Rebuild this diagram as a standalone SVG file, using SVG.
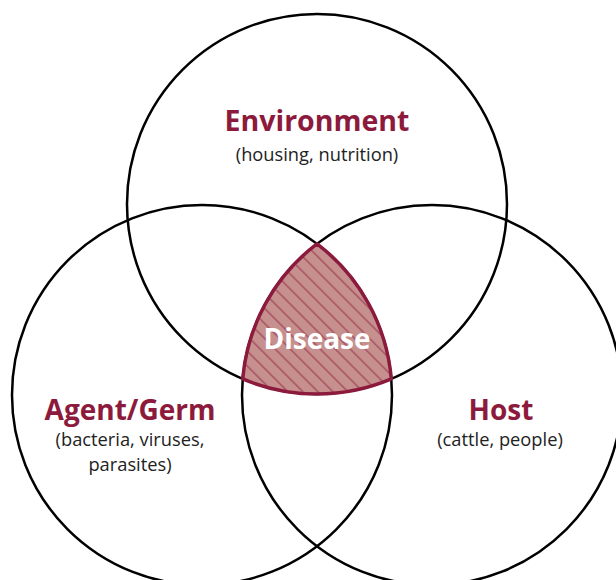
<svg xmlns="http://www.w3.org/2000/svg" width="616" height="580" viewBox="0 0 616 580">
<style>
.c{fill:none;stroke:#000;stroke-width:2.5}
.t{font-family:"Open Sans","Noto Sans",sans-serif;font-weight:700;fill:#8c1a3c;text-anchor:middle}
.s{font-family:"Open Sans","Noto Sans",sans-serif;font-size:18.3px;fill:#222;text-anchor:middle}
</style>
<defs>
<pattern id="hatch" patternUnits="userSpaceOnUse" width="10.6" height="10.6" patternTransform="rotate(-45)">
<rect width="10.6" height="10.6" fill="#c6908f"/>
<line x1="0" y1="0" x2="0" y2="10.6" stroke="#a8505f" stroke-width="3"/>
</pattern>
</defs>
<g id="connectors"/>
<g id="environment">
<circle class="c" cx="317" cy="204" r="190"/>
<text class="t" x="317" y="131" font-size="28.5">Environment</text>
<text class="s" x="317" y="161">(housing, nutrition)</text>
</g>
<g id="agent">
<circle class="c" cx="202" cy="395" r="190"/>
<text class="t" x="130" y="420" font-size="28">Agent/Germ</text>
<text class="s" x="130" y="446">(bacteria, viruses,</text>
<text class="s" x="130" y="471">parasites)</text>
</g>
<g id="host">
<circle class="c" cx="432" cy="395" r="190"/>
<text class="t" x="501" y="420" font-size="28">Host</text>
<text class="s" x="500" y="446">(cattle, people)</text>
</g>
<g id="disease">
<path d="M317,243.8 A190,190 0 0 0 242.7,378.9 A190,190 0 0 0 391.3,378.9 A190,190 0 0 0 317,243.8 Z" fill="url(#hatch)" stroke="#8c1a3c" stroke-width="3.5" stroke-linejoin="round"/>
<text class="t" x="317" y="349" font-size="28" style="fill:#fff">Disease</text>
</g>
</svg>
